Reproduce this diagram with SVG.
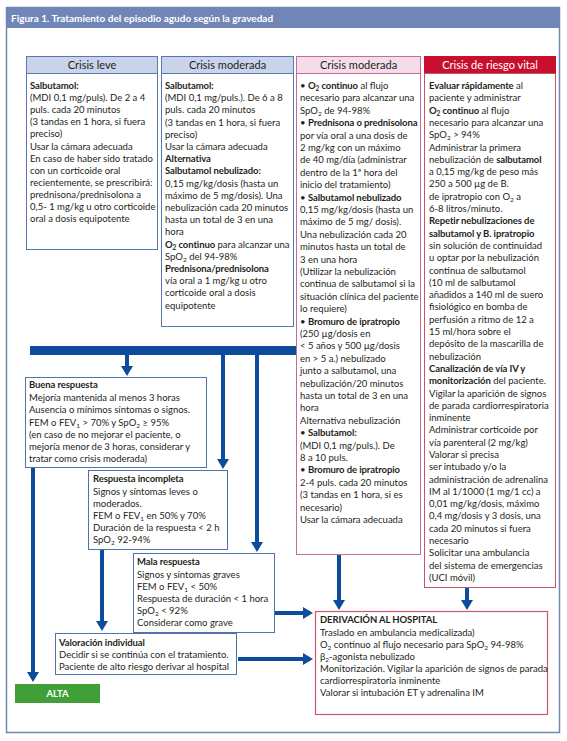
<svg xmlns="http://www.w3.org/2000/svg" width="567" height="741" viewBox="0 0 567 741">
<style>
text{font-family:Lato,"Liberation Sans",sans-serif;font-size:9.5px;fill:#231f20}
.b{font-weight:700;letter-spacing:-0.1px}
.s{font-size:6.5px;baseline-shift:-2px}
.title{font-size:10px;font-weight:700;fill:#fff}
.hd{font-size:11px;text-anchor:middle}
.hdw{font-size:11px;text-anchor:middle;fill:#fff}
.hblue{fill:#c9d4ea;stroke:#5677b0;stroke-width:1}
.bblue{fill:#fff;stroke:#5677b0;stroke-width:1}
.hpink{fill:#f4dde9;stroke:#c76b9c;stroke-width:1}
.bpink{fill:#fff;stroke:#c76b9c;stroke-width:1}
.hred{fill:#c8102e;stroke:#c8102e;stroke-width:1}
.bred{fill:#fff;stroke:#c9536a;stroke-width:1}
.fbox{fill:#fff;stroke:#4f73ad;stroke-width:1}
.dbox{fill:#fff;stroke:#d0566f;stroke-width:1.2}
.conn{fill:none;stroke:#0d4c9c;stroke-width:4;marker-end:url(#ah)}
</style>
<defs>
<marker id="ah" viewBox="0 0 10 12" refX="1" refY="6" markerWidth="10" markerHeight="12" markerUnits="userSpaceOnUse" orient="auto">
<path d="M0,0 L10,6 L0,12 z" fill="#0d4c9c"/>
</marker>
</defs>
<rect x="0" y="0" width="567" height="741" fill="#fff"/>
<g id="frame">
<rect x="6.5" y="7.5" width="553" height="725" fill="#fff" stroke="#6f86b6" stroke-width="1.5"/>
<rect x="6" y="7" width="554" height="21" fill="#6f86b6"/>
<text class="title" x="11" y="21.5">Figura 1. Tratamiento del episodio agudo según la gravedad</text>
</g>

<g id="col-leve">
<rect class="hblue" x="26.5" y="56.5" width="131" height="17"/>
<text class="hd" x="92" y="69">Crisis leve</text>
<rect class="bblue" x="26.5" y="73.5" width="131" height="176"/>
<text x="30" y="89"><tspan class="b">Salbutamol:</tspan><tspan x="30" dy="12.1">(MDI 0,1 mg/puls). De 2 a 4</tspan><tspan x="30" dy="12.1">puls. cada 20 minutos</tspan><tspan x="30" dy="12.1">(3 tandas en 1 hora, si fuera</tspan><tspan x="30" dy="12.1">preciso)</tspan><tspan x="30" dy="12.1">Usar la cámara adecuada</tspan><tspan x="30" dy="12.1">En caso de haber sido tratado</tspan><tspan x="30" dy="12.1">con un corticoide oral</tspan><tspan x="30" dy="12.1">recientemente, se prescribirá:</tspan><tspan x="30" dy="12.1">prednisona/prednisolona a</tspan><tspan x="30" dy="12.1">0,5- 1 mg/kg u otro corticoide</tspan><tspan x="30" dy="12.1">oral a dosis equipotente</tspan></text>
</g>

<g id="col-moderada">
<rect class="hblue" x="161.5" y="56.5" width="132" height="17"/>
<text class="hd" x="227.5" y="69">Crisis moderada</text>
<rect class="bblue" x="161.5" y="73.5" width="132" height="253"/>
<text x="165" y="89"><tspan class="b">Salbutamol:</tspan><tspan x="165" dy="12.2">(MDI 0,1 mg/puls.). De 6 a 8</tspan><tspan x="165" dy="12.2">puls. cada 20 minutos</tspan><tspan x="165" dy="12.2">(3 tandas en 1 hora, si fuera</tspan><tspan x="165" dy="12.2">preciso)</tspan><tspan x="165" dy="12.2">Usar la cámara adecuada</tspan><tspan x="165" dy="12.2" class="b">Alternativa</tspan><tspan x="165" dy="12.2" class="b">Salbutamol nebulizado:</tspan><tspan x="165" dy="12.2">0,15 mg/kg/dosis (hasta un</tspan><tspan x="165" dy="12.2">máximo de 5 mg/dosis). Una</tspan><tspan x="165" dy="12.2">nebulización cada 20 minutos</tspan><tspan x="165" dy="12.2">hasta un total de 3 en una</tspan><tspan x="165" dy="12.2">hora</tspan><tspan x="165" dy="12.2"><tspan class="b">O<tspan class="s">2</tspan> continuo</tspan> para alcanzar una</tspan><tspan x="165" dy="12.2">SpO<tspan class="s">2</tspan> del 94-98%</tspan><tspan x="165" dy="12.2" class="b">Prednisona/prednisolona</tspan><tspan x="165" dy="12.2">vía oral a 1 mg/kg u otro</tspan><tspan x="165" dy="12.2">corticoide oral a dosis</tspan><tspan x="165" dy="12.2">equipotente</tspan></text>
</g>

<g id="col-moderada-hosp">
<rect class="hpink" x="296.5" y="56.5" width="124" height="17"/>
<text class="hd" x="358.5" y="69">Crisis moderada</text>
<rect class="bpink" x="296.5" y="73.5" width="124" height="481"/>
<text x="300" y="89"><tspan>•  <tspan class="b">O<tspan class="s">2</tspan> continuo</tspan> al flujo</tspan><tspan x="300" dy="12.4">necesario para alcanzar una</tspan><tspan x="300" dy="12.4">SpO<tspan class="s">2</tspan> de 94-98%</tspan><tspan x="300" dy="12.4">•  <tspan class="b">Prednisona o prednisolona</tspan></tspan><tspan x="300" dy="12.4">por vía oral a una dosis de</tspan><tspan x="300" dy="12.4">2 mg/kg con un máximo</tspan><tspan x="300" dy="12.4">de 40 mg/día (administrar</tspan><tspan x="300" dy="12.4">dentro de la 1ª hora del</tspan><tspan x="300" dy="12.4">inicio del tratamiento)</tspan><tspan x="300" dy="12.4">•  <tspan class="b">Salbutamol nebulizado</tspan></tspan><tspan x="300" dy="12.4">0,15 mg/kg/dosis (hasta un</tspan><tspan x="300" dy="12.4">máximo de 5 mg/ dosis).</tspan><tspan x="300" dy="12.4">Una nebulización cada 20</tspan><tspan x="300" dy="12.4">minutos hasta un total de</tspan><tspan x="300" dy="12.4">3 en una hora</tspan><tspan x="300" dy="12.4">(Utilizar la nebulización</tspan><tspan x="300" dy="12.4">continua de salbutamol si la</tspan><tspan x="300" dy="12.4">situación clínica del paciente</tspan><tspan x="300" dy="12.4">lo requiere)</tspan><tspan x="300" dy="12.4">•  <tspan class="b">Bromuro de ipratropio</tspan></tspan><tspan x="300" dy="12.4">(250 µg/dosis en</tspan><tspan x="300" dy="12.4">&lt; 5 años y 500 µg/dosis</tspan><tspan x="300" dy="12.4">en &gt; 5 a.) nebulizado</tspan><tspan x="300" dy="12.4">junto a salbutamol, una</tspan><tspan x="300" dy="12.4">nebulización/20 minutos</tspan><tspan x="300" dy="12.4">hasta un total de 3 en una</tspan><tspan x="300" dy="12.4">hora</tspan><tspan x="300" dy="12.4">Alternativa nebulización</tspan><tspan x="300" dy="12.4">•  <tspan class="b">Salbutamol:</tspan></tspan><tspan x="300" dy="12.4">(MDI 0,1 mg/puls.). De</tspan><tspan x="300" dy="12.4">8 a 10 puls.</tspan><tspan x="300" dy="12.4">•  <tspan class="b">Bromuro de ipratropio</tspan></tspan><tspan x="300" dy="12.4">2-4 puls. cada 20 minutos</tspan><tspan x="300" dy="12.4">(3 tandas en 1 hora, si es</tspan><tspan x="300" dy="12.4">necesario)</tspan><tspan x="300" dy="12.4">Usar la cámara adecuada</tspan></text>
</g>

<g id="col-riesgo-vital">
<rect class="hred" x="424.5" y="56.5" width="131" height="17"/>
<text class="hdw" x="490" y="69">Crisis de riesgo vital</text>
<rect class="bred" x="424.5" y="73.5" width="131" height="514"/>
<text x="429" y="89"><tspan><tspan class="b">Evaluar rápidamente</tspan> al</tspan><tspan x="429" dy="12.3">paciente y administrar</tspan><tspan x="429" dy="12.3"><tspan class="b">O<tspan class="s">2</tspan> continuo</tspan> al flujo</tspan><tspan x="429" dy="12.3">necesario para alcanzar una</tspan><tspan x="429" dy="12.3">SpO<tspan class="s">2</tspan> &gt; 94%</tspan><tspan x="429" dy="12.3">Administrar la primera</tspan><tspan x="429" dy="12.3">nebulización de <tspan class="b">salbutamol</tspan></tspan><tspan x="429" dy="12.3">a 0,15 mg/kg de peso más</tspan><tspan x="429" dy="12.3">250 a 500 µg de B.</tspan><tspan x="429" dy="12.3">de ipratropio con O<tspan class="s">2</tspan> a</tspan><tspan x="429" dy="12.3">6-8 litros/minuto.</tspan><tspan x="429" dy="12.3" class="b">Repetir nebulizaciones de</tspan><tspan x="429" dy="12.3" class="b">salbutamol y B. ipratropio</tspan><tspan x="429" dy="12.3">sin solución de continuidad</tspan><tspan x="429" dy="12.3">u optar por la nebulización</tspan><tspan x="429" dy="12.3">continua de salbutamol</tspan><tspan x="429" dy="12.3">(10 ml de salbutamol</tspan><tspan x="429" dy="12.3">añadidos a 140 ml de suero</tspan><tspan x="429" dy="12.3">fisiológico en bomba de</tspan><tspan x="429" dy="12.3">perfusión a ritmo de 12 a</tspan><tspan x="429" dy="12.3">15 ml/hora sobre el</tspan><tspan x="429" dy="12.3">depósito de la mascarilla de</tspan><tspan x="429" dy="12.3">nebulización</tspan><tspan x="429" dy="12.3" class="b">Canalización de vía IV y</tspan><tspan x="429" dy="12.3"><tspan class="b">monitorización</tspan> del paciente.</tspan><tspan x="429" dy="12.3">Vigilar la aparición de signos</tspan><tspan x="429" dy="12.3">de parada cardiorrespiratoria</tspan><tspan x="429" dy="12.3">inminente</tspan><tspan x="429" dy="12.3">Administrar corticoide por</tspan><tspan x="429" dy="12.3">vía parenteral (2 mg/kg)</tspan><tspan x="429" dy="12.3">Valorar si precisa</tspan><tspan x="429" dy="12.3">ser intubado y/o la</tspan><tspan x="429" dy="12.3">administración de adrenalina</tspan><tspan x="429" dy="12.3">IM al 1/1000 (1 mg/1 cc) a</tspan><tspan x="429" dy="12.3">0,01 mg/kg/dosis, máximo</tspan><tspan x="429" dy="12.3">0,4 mg/dosis y 3 dosis, una</tspan><tspan x="429" dy="12.3">cada 20 minutos si fuera</tspan><tspan x="429" dy="12.3">necesario</tspan><tspan x="429" dy="12.3">Solicitar una ambulancia</tspan><tspan x="429" dy="12.3">del sistema de emergencias</tspan><tspan x="429" dy="12.3">(UCI móvil)</tspan></text>
</g>

<g id="connectors">
<rect x="30" y="346" width="266" height="9" fill="#0d4c9c"/>
<path class="conn" d="M127,355 V367"/>
<path class="conn" d="M223,355 V460"/>
<path class="conn" d="M257,355 V543"/>
<path class="conn" d="M33,467 V673"/>
<path class="conn" d="M102,549 V622"/>
<path class="conn" d="M274,613 H304"/>
<path class="conn" d="M238,659 H304"/>
<path class="conn" d="M339,555 V601"/>
<path class="conn" d="M467,588 V601"/>
</g>

<g id="buena-respuesta">
<rect class="fbox" x="25.5" y="377.5" width="181" height="90"/>
<text x="29" y="388"><tspan class="b">Buena respuesta</tspan><tspan x="29" y="401">Mejoría mantenida al menos 3 horas</tspan><tspan x="29" y="413.3">Ausencia o mínimos síntomas o signos.</tspan><tspan x="29" y="425.6">FEM o FEV<tspan class="s">1</tspan> &gt; 70% y SpO<tspan class="s">2</tspan> ≥ 95%</tspan><tspan x="29" y="438">(en caso de no mejorar el paciente, o</tspan><tspan x="29" y="450">mejoría menor de 3 horas, considerar y</tspan><tspan x="29" y="462">tratar como crisis moderada)</tspan></text>
</g>

<g id="respuesta-incompleta">
<rect class="fbox" x="88.5" y="470.5" width="139" height="79"/>
<text x="93" y="482"><tspan class="b">Respuesta incompleta</tspan><tspan x="93" y="494.5">Signos y síntomas leves o</tspan><tspan x="93" y="506.7">moderados.</tspan><tspan x="93" y="519">FEM o FEV<tspan class="s">1</tspan> en 50% y 70%</tspan><tspan x="93" y="531.2">Duración de la respuesta &lt; 2 h</tspan><tspan x="93" y="543.4">SpO<tspan class="s">2</tspan> 92-94%</tspan></text>
</g>

<g id="mala-respuesta">
<rect class="fbox" x="133.5" y="553.5" width="141" height="79"/>
<text x="137" y="565"><tspan class="b">Mala respuesta</tspan><tspan x="137" y="578">Signos y síntomas graves</tspan><tspan x="137" y="590">FEM o FEV<tspan class="s">1</tspan> &lt; 50%</tspan><tspan x="137" y="602">Respuesta de duración &lt; 1 hora</tspan><tspan x="137" y="614">SpO<tspan class="s">2</tspan> &lt; 92%</tspan><tspan x="137" y="626">Considerar como grave</tspan></text>
</g>

<g id="valoracion-individual">
<rect class="fbox" x="55.5" y="633.5" width="181" height="41"/>
<text x="59" y="646"><tspan class="b">Valoración individual</tspan><tspan x="59" y="658.2">Decidir si se continúa con el tratamiento.</tspan><tspan x="59" y="670.4">Paciente de alto riesgo derivar al hospital</tspan></text>
</g>

<g id="alta">
<rect x="15" y="684" width="85" height="19" fill="#40a037"/>
<text x="57.5" y="697" text-anchor="middle" class="b" style="fill:#fff;font-size:9.5px">ALTA</text>
</g>

<g id="derivacion-hospital">
<rect class="dbox" x="315.5" y="611.5" width="232" height="103"/>
<text x="320" y="622.5"><tspan class="b">DERIVACIÓN AL HOSPITAL</tspan><tspan x="320" y="635.5">Traslado en ambulancia medicalizada)</tspan><tspan x="320" y="647.5">O<tspan class="s">2</tspan> continuo al flujo necesario para SpO<tspan class="s">2</tspan> 94-98%</tspan><tspan x="320" y="659.5">β<tspan class="s">2</tspan>-agonista nebulizado</tspan><tspan x="320" y="671.5">Monitorización. Vigilar la aparición de signos de parada</tspan><tspan x="320" y="683.5">cardiorrespiratoria inminente</tspan><tspan x="320" y="695.5">Valorar si intubación ET y adrenalina IM</tspan></text>
</g>
</svg>
